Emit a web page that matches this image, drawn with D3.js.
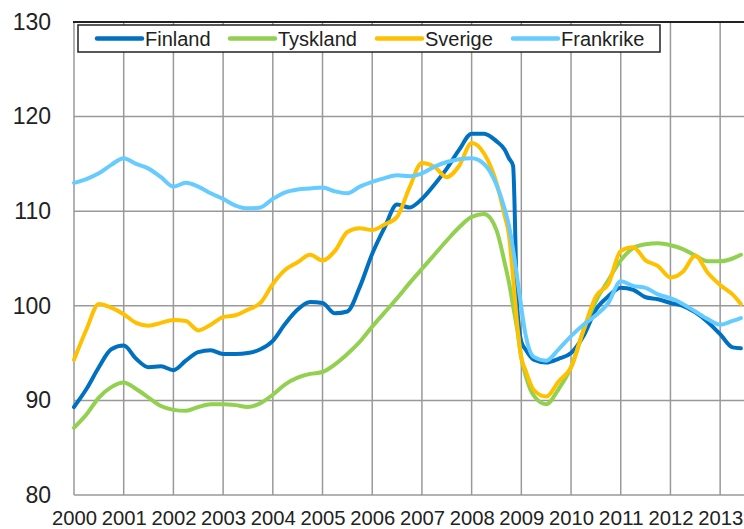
<!DOCTYPE html>
<html>
<head>
<meta charset="utf-8">
<script src="https://cdn.jsdelivr.net/npm/d3@7"></script>
<style>
body { margin: 0; background: #fff; }
text { font-family: "Liberation Sans", Arial, sans-serif; fill: #222; }
</style>
</head>
<body>
<svg width="744" height="529"></svg>
<script>
// months since Jan 2000
var months = [0, 3, 6, 9, 12, 15, 18, 21, 24, 27, 30, 33, 36, 39, 42, 45, 48, 51, 54, 57,
  60, 63, 66, 69, 72, 75, 78, 81, 84, 87, 90, 93, 96, 99, 102, 104, 105, 106, 107, 108,
  109, 111, 114, 117, 120, 123, 126, 129, 132, 135, 138, 141, 144, 147, 150, 153, 156, 159, 161]

var finland = [89.3, 91.2, 93.5, 95.4, 95.8, 94.4, 93.5, 93.6, 93.2, 94.2, 95.1, 95.3, 94.9, 94.9, 95.0, 95.4, 96.3, 98.1, 99.6, 100.4,
  100.3, 99.2, 99.4, 102.0, 105.5, 108.3, 110.7, 110.4, 111.3, 112.8, 114.5, 116.5, 118.2, 118.2, 117.4, 116.5, 115.6, 114.8, 100.0, 96.2,
  95.4, 94.3, 94.0, 94.4, 95.0, 96.8, 99.6, 101.0, 101.9, 101.7, 100.9, 100.7, 100.3, 100.0, 99.3, 98.3, 97.0, 95.6, 95.5]

var tyskland = [87.1, 88.5, 90.3, 91.4, 91.9, 91.2, 90.3, 89.4, 89.0, 88.9, 89.3, 89.6, 89.6, 89.5, 89.3, 89.7, 90.6, 91.7, 92.4, 92.8,
  93.0, 93.8, 94.9, 96.2, 97.8, 99.3, 100.8, 102.4, 103.9, 105.4, 106.9, 108.3, 109.4, 109.7, 108.0, 104.5, 102.5, 100.0, 97.5, 94.5,
  92.7, 90.5, 89.6, 91.2, 93.5, 97.4, 100.5, 102.7, 104.8, 106.1, 106.5, 106.6, 106.4, 106.0, 105.3, 104.7, 104.7, 105.0, 105.4]

var sverige = [94.3, 97.5, 100.2, 99.8, 99.1, 98.2, 97.9, 98.2, 98.5, 98.4, 97.4, 98.0, 98.8, 99.0, 99.6, 100.3, 102.3, 103.8, 104.6, 105.4,
  104.8, 105.8, 107.8, 108.2, 108.0, 108.6, 109.4, 112.5, 115.1, 114.7, 113.6, 114.8, 117.2, 116.1, 113.0, 109.5, 107.5, 103.0, 98.0, 94.5,
  93.2, 91.1, 90.4, 92.0, 93.5, 97.4, 101.0, 102.3, 105.8, 106.2, 104.8, 104.2, 103.0, 103.6, 105.3, 103.5, 102.2, 101.2, 100.2]

var frankrike = [113.0, 113.4, 114.0, 114.9, 115.6, 115.0, 114.5, 113.6, 112.6, 113.0, 112.6, 111.9, 111.3, 110.6, 110.3, 110.4, 111.3, 112.0, 112.3, 112.4,
  112.5, 112.1, 111.9, 112.6, 113.1, 113.5, 113.8, 113.7, 114.0, 114.7, 115.2, 115.5, 115.6, 115.0, 112.8, 110.2, 108.5, 106.0, 103.0, 99.8,
  97.0, 94.6, 94.2, 95.4, 96.8, 98.0, 99.0, 100.3, 102.6, 102.1, 101.9, 101.2, 100.8, 100.2, 99.4, 98.6, 98.0, 98.4, 98.7]

var seriesNames = ["Finland", "Tyskland", "Sverige", "Frankrike"]
var seriesColors = ["#0070C0", "#92D050", "#FFC000", "#66CCFF"]
var seriesValues = [finland, tyskland, sverige, frankrike]

var years = d3.range(2000, 2014)
var yTicks = [80, 90, 100, 110, 120, 130]

var plot = {left: 74, right: 745, top: 22, bottom: 495}

var svg = d3.select("svg")

var xScale = d3.scaleLinear()
    .domain([2000, 2013.5])
    .range([plot.left, plot.right])

var yScale = d3.scaleLinear()
    .domain([80, 130])
    .range([plot.bottom, plot.top])

// grid
var grid = svg.append("g").attr("id", "grid")

grid.selectAll(".hgrid")
    .data(yTicks.filter(function(d){ return d > 80 && d < 130 }))
    .enter()
    .append("line")
    .attr("x1", plot.left)
    .attr("x2", 744)
    .attr("y1", function(d){ return yScale(d) })
    .attr("y2", function(d){ return yScale(d) })
    .attr("stroke", "#999")
    .attr("stroke-width", 1.5)

grid.selectAll(".vgrid")
    .data(years)
    .enter()
    .append("line")
    .attr("x1", function(d){ return xScale(d) })
    .attr("x2", function(d){ return xScale(d) })
    .attr("y1", plot.top)
    .attr("y2", plot.bottom)
    .attr("stroke", "#999")
    .attr("stroke-width", 1.5)

// bottom and top frame
grid.append("line")
    .attr("x1", plot.left).attr("x2", 744)
    .attr("y1", plot.bottom).attr("y2", plot.bottom)
    .attr("stroke", "#999").attr("stroke-width", 1.5)

grid.append("line")
    .attr("x1", plot.left - 1).attr("x2", 744)
    .attr("y1", plot.top).attr("y2", plot.top)
    .attr("stroke", "#222").attr("stroke-width", 2)

// axes
var yAxis = d3.axisLeft(yScale).tickValues(yTicks).tickSize(0).tickPadding(23)
var xAxis = d3.axisBottom(xScale).tickValues(years).tickFormat(d3.format("d")).tickSize(0).tickPadding(15)

var gy = svg.append("g")
    .attr("transform", "translate(" + plot.left + ",0)")
    .call(yAxis)
gy.select(".domain").remove()
gy.selectAll("text")
    .attr("font-size", 23)
    .attr("font-family", "Liberation Sans, Arial, sans-serif")
    .attr("fill", "#222")

var gx = svg.append("g")
    .attr("transform", "translate(0," + plot.bottom + ")")
    .call(xAxis)
gx.select(".domain").remove()
gx.selectAll("text")
    .attr("font-size", 21)
    .attr("font-family", "Liberation Sans, Arial, sans-serif")
    .attr("fill", "#222")
    .attr("textLength", 45)
    .attr("lengthAdjust", "spacingAndGlyphs")

// lines
var line = d3.line()
    .x(function(d){ return xScale(2000 + d[0] / 12) })
    .y(function(d){ return yScale(d[1]) })
    .curve(d3.curveMonotoneX)

svg.append("g")
    .selectAll("path")
    .data(seriesValues)
    .enter()
    .append("path")
    .attr("d", function(vals){
        return line(months.map(function(m, i){ return [m, vals[i]] }))
    })
    .attr("fill", "none")
    .attr("stroke", function(d, i){ return seriesColors[i] })
    .attr("stroke-width", 4)
    .attr("stroke-linejoin", "round")
    .attr("stroke-linecap", "round")

// legend
var legendX = [97, 230, 377, 513]
var legend = svg.append("g").attr("id", "legend")

legend.append("rect")
    .attr("x", 78).attr("y", 25)
    .attr("width", 582).attr("height", 27)
    .attr("fill", "#fff")
    .attr("stroke", "#222")
    .attr("stroke-width", 1.5)

var items = legend.selectAll(".item")
    .data(seriesNames)
    .enter()
    .append("g")
    .attr("transform", function(d, i){ return "translate(" + legendX[i] + ",0)" })

items.append("line")
    .attr("x1", 0).attr("x2", 45)
    .attr("y1", 38.5).attr("y2", 38.5)
    .attr("stroke", function(d, i){ return seriesColors[i] })
    .attr("stroke-width", 4.5)
    .attr("stroke-linecap", "round")

items.append("text")
    .attr("x", 48)
    .attr("y", 46)
    .attr("font-size", 20)
    .text(function(d){ return d })
</script>
</body>
</html>
